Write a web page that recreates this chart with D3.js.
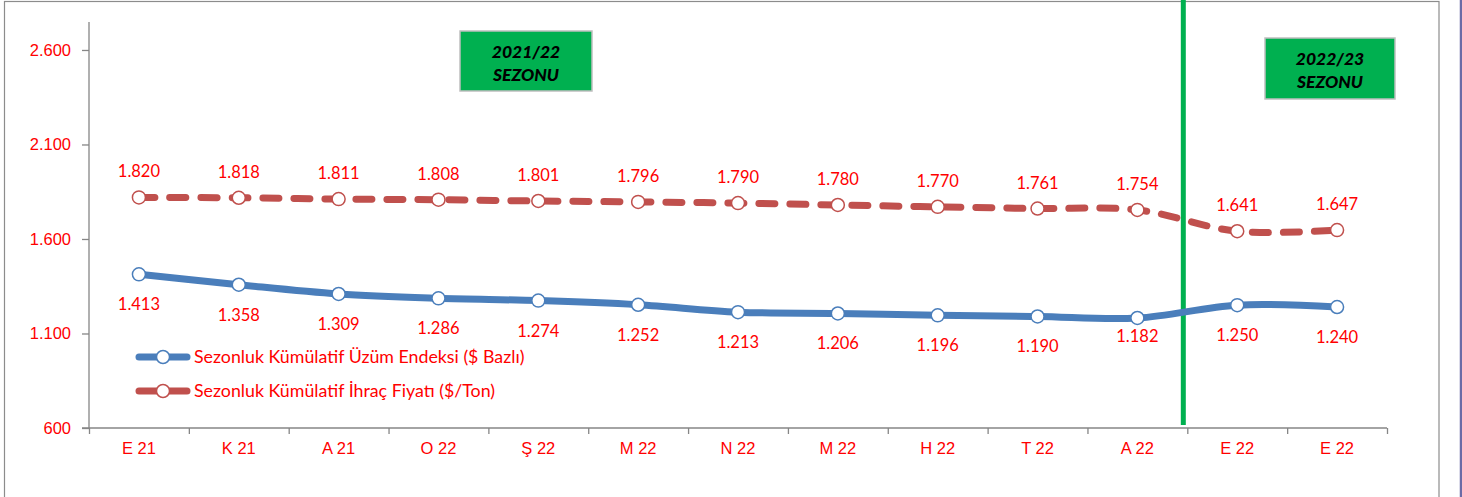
<!DOCTYPE html>
<html>
<head>
<meta charset="utf-8">
<script src="https://cdn.jsdelivr.net/npm/d3@7"></script>
<style>
  body { margin: 0; background: #fff; }
  svg { display: block; font-family: Lato, "Noto Sans", sans-serif; }
</style>
</head>
<body>
<main></main>
<script>
const months = ["E 21", "K 21", "A 21", "O 22", "Ş 22", "M 22", "N 22", "M 22", "H 22", "T 22", "A 22", "E 22", "E 22"];
const uzumEndeksi = [1413, 1358, 1309, 1286, 1274, 1252, 1213, 1206, 1196, 1190, 1182, 1250, 1240];
const ihracFiyati = [1820, 1818, 1811, 1808, 1801, 1796, 1790, 1780, 1770, 1761, 1754, 1641, 1647];
const yTicks = [600, 1100, 1600, 2100, 2600];
const seriesNames = ["Sezonluk Kümülatif Üzüm Endeksi ($ Bazlı)", "Sezonluk Kümülatif İhraç Fiyatı ($/Ton)"];
const seasons = ["2021/22", "2022/23"];

const W = 1462, H = 497;
const plot = { left: 89, right: 1387, top: 22, bottom: 428 };
const RED = "#ff0000";
const AXIS = "#868686";
const BLUE = "#4a7ebb";
const DRED = "#c0504d";

const trFmt = d3.formatLocale({ decimal: ",", thousands: ".", grouping: [3], currency: ["", ""] }).format(",.0f");

const svg = d3.select("main").append("svg").attr("width", W).attr("height", H);

// outer frame
svg.append("rect").attr("x", 4.5).attr("y", 1.5).attr("width", 1434.5).attr("height", 600)
  .attr("fill", "none").attr("stroke", "#8c8c8c").attr("stroke-width", 1.2);
svg.append("line").attr("x1", 1461).attr("x2", 1461).attr("y1", 0).attr("y2", H)
  .attr("stroke", "#6b6ba6").attr("stroke-width", 2.5);

const idx = d3.range(months.length);
const x = d3.scaleBand().domain(idx).range([plot.left, plot.right]);
const xEdge = d3.scaleLinear().domain([0, months.length]).range([plot.left, plot.right]);
const y = d3.scaleLinear().domain([600, 2748]).range([plot.bottom, plot.top]);
const cx = i => x(i) + x.bandwidth() / 2;

// y axis
const gy = svg.append("g").attr("transform", `translate(${plot.left},0)`)
  .call(d3.axisLeft(y).tickValues(yTicks).tickSize(7).tickPadding(11).tickFormat(trFmt));
gy.select(".domain").attr("stroke", AXIS).attr("stroke-width", 1.3).attr("d", `M0,${plot.top}V${plot.bottom}`);
gy.selectAll(".tick line").attr("stroke", AXIS).attr("stroke-width", 1.3);
gy.selectAll(".tick text").attr("fill", RED).style("font-size", "16.5px");

// x axis: boundary ticks + centered labels
const gxe = svg.append("g").attr("transform", `translate(0,${plot.bottom})`)
  .call(d3.axisBottom(xEdge).tickValues(d3.range(months.length + 1)).tickSize(6).tickFormat(""));
gxe.select(".domain").attr("stroke", AXIS).attr("stroke-width", 1.3).attr("d", `M${plot.left - 7},0H${plot.right}`);
gxe.selectAll(".tick line").attr("stroke", AXIS).attr("stroke-width", 1.3);

const gx = svg.append("g").attr("transform", `translate(0,${plot.bottom})`)
  .call(d3.axisBottom(x).tickSize(0).tickPadding(14).tickFormat(i => months[i]));
gx.select(".domain").remove();
gx.selectAll(".tick text").attr("fill", RED).style("font-size", "16.5px");

// season divider
svg.append("line").attr("x1", xEdge(11) - 4).attr("x2", xEdge(11) - 4)
  .attr("y1", 0).attr("y2", plot.bottom - 3)
  .attr("stroke", "#00b050").attr("stroke-width", 5);

// season boxes
const boxes = [
  { label: seasons[0], x: 460, y: 31, w: 132, h: 60 },
  { label: seasons[1], x: 1265, y: 38, w: 130, h: 61 }
];
boxes.forEach(b => {
  const g = svg.append("g");
  g.append("rect").attr("x", b.x).attr("y", b.y).attr("width", b.w).attr("height", b.h)
    .attr("fill", "#00b050").attr("stroke", "#bfbfbf").attr("stroke-width", 1.5);
  [b.label, "SEZONU"].forEach((t, k) => {
    g.append("text").attr("x", b.x + b.w / 2).attr("y", b.y + 27 + k * 23).attr("text-anchor", "middle")
      .style("font-weight", 900).style("font-style", "italic").style("font-size", "17.5px").text(t);
  });
});

const line = d3.line().x((d, i) => cx(i)).y(d => y(d)).curve(d3.curveCatmullRom.alpha(0.5));

// red dashed series
svg.append("path").datum(ihracFiyati).attr("d", line).attr("fill", "none")
  .attr("stroke", DRED).attr("stroke-width", 7).attr("stroke-linecap", "round")
  .attr("stroke-dasharray", "16 15");
// blue solid series
svg.append("path").datum(uzumEndeksi).attr("d", line).attr("fill", "none")
  .attr("stroke", BLUE).attr("stroke-width", 7).attr("stroke-linecap", "round");

const markers = (data, color) => svg.append("g").selectAll("circle").data(data).enter()
  .append("circle").attr("cx", (d, i) => cx(i)).attr("cy", d => y(d)).attr("r", 6.5)
  .attr("fill", "#fff").attr("stroke", color).attr("stroke-width", 1.5);
markers(ihracFiyati, DRED);
markers(uzumEndeksi, BLUE);

// the A 22 label of the blue series sits closer to its point
const labelNudge = (i, base) => (base > 0 && i === 10 ? base - 12 : base);
const labels = (data, dy) => svg.append("g").selectAll("text").data(data).enter()
  .append("text").attr("x", (d, i) => cx(i)).attr("y", (d, i) => y(d) + labelNudge(i, dy))
  .attr("text-anchor", "middle").attr("fill", RED).style("font-size", "16.5px")
  .text(d => trFmt(d));
labels(ihracFiyati, -20);
labels(uzumEndeksi, 36);

// legend
const legend = svg.append("g").attr("transform", "translate(136,357)");
[BLUE, DRED].forEach((c, i) => {
  const g = legend.append("g").attr("transform", `translate(0,${i * 34})`);
  g.append("line").attr("x1", 3).attr("x2", 51).attr("y1", 0).attr("y2", 0)
    .attr("stroke", c).attr("stroke-width", 7).attr("stroke-linecap", "round");
  g.append("circle").attr("cx", 27).attr("cy", 0).attr("r", 6.5)
    .attr("fill", "#fff").attr("stroke", c).attr("stroke-width", 1.5);
  g.append("text").attr("x", 58).attr("y", 6).attr("fill", RED).style("font-size", "17.8px")
    .text(seriesNames[i]);
});
</script>
</body>
</html>
